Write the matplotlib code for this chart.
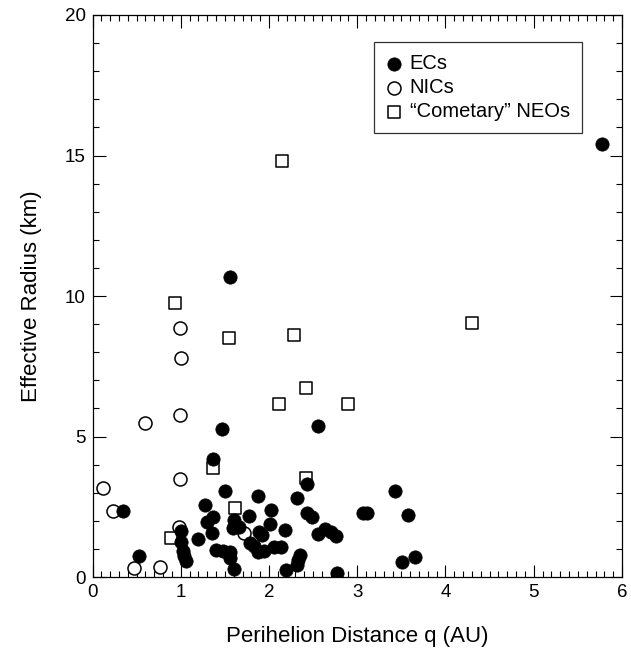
import matplotlib
matplotlib.use('Agg')
import matplotlib.pyplot as plt
from matplotlib.ticker import MultipleLocator

plt.rcParams['font.family'] = ['Liberation Sans', 'DejaVu Sans']

# Ecliptic comets (filled circles)
ec_q = [5.77, 1.56, 1.47, 2.56, 1.37, 1.50, 2.43, 3.43, 1.88, 2.32,
        1.27, 0.34, 2.02, 1.36, 1.77, 2.43, 2.49, 3.06, 3.11, 3.57,
        1.30, 1.60, 1.59, 1.66, 2.01, 2.18, 1.00, 1.35, 1.89, 1.92,
        2.56, 2.64, 2.70, 2.76, 1.20, 1.00, 1.79, 1.83, 2.06, 2.14,
        1.03, 1.40, 1.48, 1.56, 1.87, 1.94, 0.53, 1.04, 1.56, 1.06,
        2.35, 2.33, 2.32, 1.60, 2.19, 2.77, 3.51, 3.65]
ec_r = [15.4, 10.69, 5.27, 5.37, 4.20, 3.06, 3.30, 3.07, 2.87, 2.80,
        2.57, 2.36, 2.38, 2.15, 2.17, 2.29, 2.12, 2.27, 2.29, 2.20,
        1.97, 2.03, 1.73, 1.79, 1.88, 1.67, 1.65, 1.55, 1.61, 1.49,
        1.53, 1.70, 1.61, 1.47, 1.37, 1.26, 1.20, 1.11, 1.08, 1.08,
        0.93, 0.96, 0.92, 0.90, 0.90, 0.92, 0.76, 0.76, 0.68, 0.58,
        0.78, 0.60, 0.43, 0.30, 0.24, 0.16, 0.55, 0.70]

# Nearly isotropic comets (open circles)
nic_q = [0.99, 1.00, 0.99, 0.59, 0.99, 0.12, 0.23, 0.98, 1.72, 0.47, 0.76]
nic_r = [8.87, 7.78, 5.78, 5.47, 3.48, 3.18, 2.36, 1.78, 1.55, 0.33, 0.37]

# "Cometary" NEOs (open squares)
neo_q = [2.15, 0.94, 1.55, 2.28, 4.30, 2.42, 2.11, 2.89, 1.37, 2.42, 1.61, 0.89]
neo_r = [14.8, 9.76, 8.49, 8.61, 9.05, 6.74, 6.15, 6.15, 3.87, 3.53, 2.44, 1.38]

fig = plt.figure(figsize=(6.31, 6.52), dpi=100)
ax = fig.add_axes([0.1466, 0.115, 0.8391, 0.862])

ax.scatter(neo_q, neo_r, s=80, marker='s', facecolors='white',
           edgecolors='black', linewidths=1.1, label='\u201cCometary\u201d NEOs', zorder=2)
ax.scatter(nic_q, nic_r, s=88, marker='o', facecolors='white',
           edgecolors='black', linewidths=1.1, label='NICs', zorder=2)
ax.scatter(ec_q, ec_r, s=92, marker='o', facecolors='black',
           edgecolors='black', linewidths=0.5, label='ECs', zorder=3)

ax.set_xlim(0, 6)
ax.set_ylim(0, 20)
ax.xaxis.set_major_locator(MultipleLocator(1))
ax.xaxis.set_minor_locator(MultipleLocator(0.1))
ax.yaxis.set_major_locator(MultipleLocator(5))
ax.yaxis.set_minor_locator(MultipleLocator(1))
ax.tick_params(which='both', direction='in', top=True, right=True,
               width=0.8, labelsize=13.5)
ax.tick_params(which='major', length=9, pad=5)
ax.tick_params(which='minor', length=4.5)
for sp in ax.spines.values():
    sp.set_linewidth(0.9)

ax.set_xlabel('Perihelion Distance q (AU)', fontsize=16, labelpad=18)
ax.set_ylabel('Effective Radius (km)', fontsize=16, labelpad=16)

# legend in the order ECs, NICs, NEOs
handles, labels = ax.get_legend_handles_labels()
order = [2, 1, 0]
leg = ax.legend([handles[i] for i in order], [labels[i] for i in order],
                loc='upper right', bbox_to_anchor=(0.924, 0.952),
                borderaxespad=0, fontsize=14.5, frameon=True, fancybox=False,
                edgecolor='black', handletextpad=0.35, handlelength=0.8,
                labelspacing=0.25, borderpad=0.6, markerscale=1.0)
leg.get_frame().set_linewidth(0.9)

fig.savefig('out.png', dpi=100)
